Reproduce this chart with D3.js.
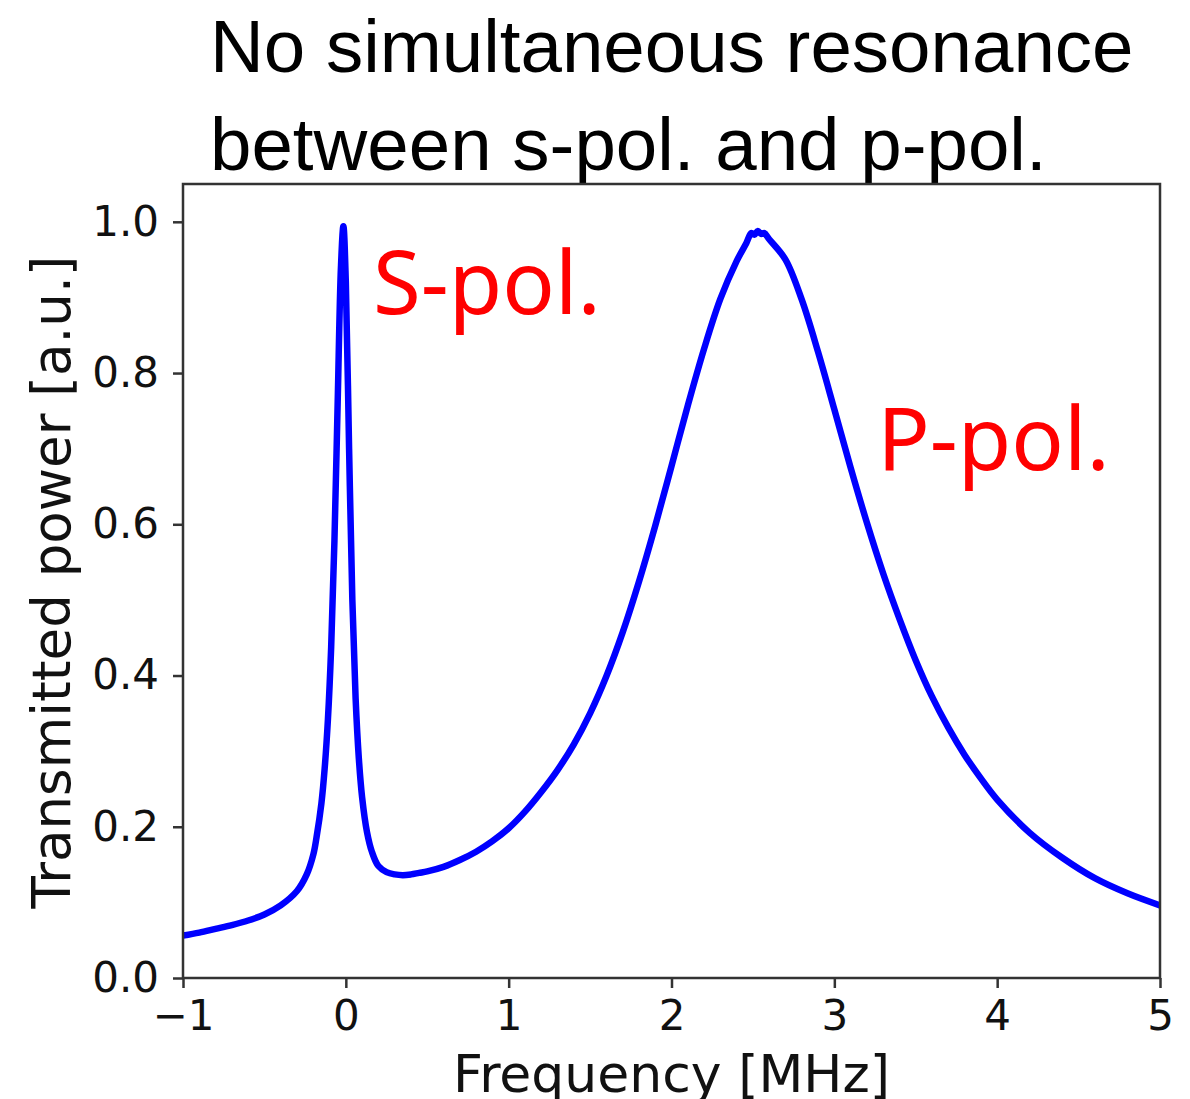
<!DOCTYPE html>
<html>
<head>
<meta charset="utf-8">
<script src="https://cdn.jsdelivr.net/npm/d3@7"></script>
<style>
  body { margin: 0; background: #fff; }
  svg { display: block; }
</style>
</head>
<body>
<div id="chart"></div>
<script>
// values
const freq = [-1.0, -0.9, -0.8, -0.7, -0.6, -0.5, -0.4, -0.3, -0.24, -0.2, -0.18, -0.15, -0.13, -0.11,
  -0.09, -0.07, -0.05, -0.03, -0.015, 0.0, 0.02, 0.04, 0.06, 0.08, 0.1, 0.13, 0.16, 0.2, 0.25, 0.3,
  0.35, 0.4, 0.45, 0.5, 0.6, 0.7, 0.8, 0.9, 1.0, 1.1, 1.2, 1.3, 1.4, 1.5, 1.6, 1.7, 1.8, 1.9, 2.0,
  2.1, 2.2, 2.3, 2.4, 2.46, 2.49, 2.51, 2.53, 2.55, 2.57, 2.6, 2.7, 2.8, 2.9, 3.0, 3.1, 3.2, 3.3,
  3.4, 3.5, 3.6, 3.7, 3.8, 3.9, 4.0, 4.2, 4.4, 4.6, 4.8, 5.0];
const power = [0.056, 0.060, 0.065, 0.070, 0.076, 0.084, 0.096, 0.115, 0.137, 0.163, 0.186, 0.231, 0.277, 0.342,
  0.438, 0.578, 0.762, 0.940, 0.994, 0.920, 0.700, 0.500, 0.370, 0.290, 0.239, 0.193, 0.167, 0.148, 0.140, 0.137,
  0.136, 0.137, 0.139, 0.141, 0.147, 0.156, 0.167, 0.181, 0.198, 0.220, 0.246, 0.275, 0.309, 0.350, 0.399, 0.457, 0.524, 0.598, 0.677,
  0.757, 0.832, 0.898, 0.948, 0.972, 0.985, 0.983, 0.988, 0.984, 0.985, 0.977, 0.950, 0.897, 0.828, 0.752, 0.675, 0.602, 0.535,
  0.475, 0.420, 0.372, 0.331, 0.295, 0.264, 0.236, 0.192, 0.159, 0.132, 0.112, 0.096];

const xTicks = [-1, 0, 1, 2, 3, 4, 5];
const yTicks = [0, 0.2, 0.4, 0.6, 0.8, 1.0];
const titleLines = ["No simultaneous resonance", "between s-pol. and p-pol."];
const notes = [
  { text: "S-pol.", x: 0.167, y: 0.878 },
  { text: "P-pol.", x: 3.263, y: 0.672 }
];

const width = 1190, height = 1099;
const margin = { top: 184, right: 30, bottom: 121, left: 183 };
const innerWidth = width - margin.left - margin.right;
const innerHeight = height - margin.top - margin.bottom;

const svg = d3.select("#chart")
  .append("svg")
  .attr("width", width)
  .attr("height", height);

const xScale = d3.scaleLinear().domain([-1, 5]).range([0, innerWidth]);
const yScale = d3.scaleLinear().domain([0, 1.05]).range([innerHeight, 0]);

// title
svg.append("text")
  .selectAll("tspan")
  .data(titleLines)
  .join("tspan")
    .attr("x", 210)
    .attr("y", (d, i) => 72 + i * 98)
    .text(d => d)
    .style("font-family", "'Liberation Sans', Arial, sans-serif")
    .style("font-size", "74.5px")
    .attr("fill", "#000");

const plot = svg.append("g")
  .attr("transform", `translate(${margin.left},${margin.top})`);

plot.append("clipPath")
  .attr("id", "clip")
  .append("rect")
    .attr("width", innerWidth)
    .attr("height", innerHeight);

const points = freq.map((f, i) => ({ f: f, p: power[i] }));

const line = d3.line()
  .x(d => xScale(d.f))
  .y(d => yScale(d.p))
  .curve(d3.curveCatmullRom.alpha(0.5));

plot.append("path")
  .datum(points)
  .attr("clip-path", "url(#clip)")
  .attr("d", line)
  .attr("fill", "none")
  .attr("stroke", "#0000ff")
  .attr("stroke-width", 6.5)
  .attr("stroke-linejoin", "round");

// frame
plot.append("rect")
  .attr("width", innerWidth)
  .attr("height", innerHeight)
  .attr("fill", "none")
  .attr("stroke", "#333")
  .attr("stroke-width", 2.5);

const xAxis = plot.append("g")
  .attr("transform", `translate(0,${innerHeight})`)
  .call(d3.axisBottom(xScale).tickValues(xTicks).tickSize(10).tickPadding(12).tickFormat(d3.format("d")));

const yAxis = plot.append("g")
  .call(d3.axisLeft(yScale).tickValues(yTicks).tickSize(10).tickPadding(14).tickFormat(d3.format(".1f")));

[xAxis, yAxis].forEach(ax => {
  ax.select(".domain").remove();
  ax.selectAll(".tick line").attr("stroke", "#333").attr("stroke-width", 2.5);
  ax.selectAll(".tick text")
    .attr("fill", "#111")
    .style("font-family", "'DejaVu Sans', sans-serif")
    .style("font-size", "42px");
});

// axis labels
svg.append("text")
  .attr("x", margin.left + xScale(2))
  .attr("y", 1092)
  .attr("text-anchor", "middle")
  .style("font-family", "'DejaVu Sans', sans-serif")
  .style("font-size", "52px")
  .attr("fill", "#111")
  .text("Frequency [MHz]");

svg.append("text")
  .attr("transform", `translate(70,582) rotate(-90)`)
  .attr("text-anchor", "middle")
  .style("font-family", "'DejaVu Sans', sans-serif")
  .style("font-size", "53px")
  .attr("fill", "#111")
  .text("Transmitted power [a.u.]");

// red annotations
plot.selectAll(".note")
  .data(notes)
  .join("text")
    .attr("class", "note")
    .attr("x", d => xScale(d.x))
    .attr("y", d => yScale(d.y))
    .style("font-family", "'Noto Sans', sans-serif")
    .style("font-size", "87px")
    .attr("fill", "#ff0000")
    .text(d => d.text);
</script>
</body>
</html>
